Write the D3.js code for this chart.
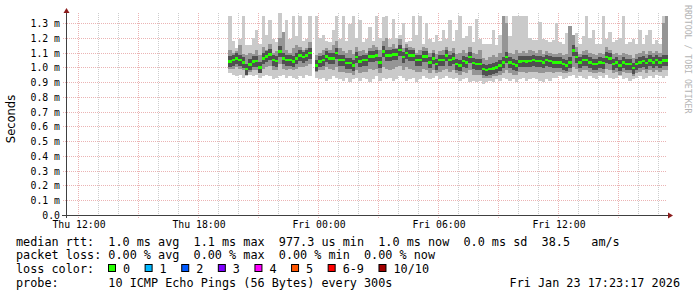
<!DOCTYPE html>
<html lang="en">
<head>
<meta charset="UTF-8">
<title>SmokePing - last 30 hours</title>
<style>
  body { margin: 0; background: #fff; }
  text { font-family: "DejaVu Sans Mono", monospace; fill: #000; }
  .tick-label { font-size: 9.8px; }
  .legend { font-size: 11.8px; white-space: pre; }
  .ylabel { font-family: "DejaVu Sans", sans-serif; font-size: 11.5px; }
  .watermark { font-size: 8.2px; fill: #b4b4b4; }
</style>
</head>
<body>
<script src="https://cdn.jsdelivr.net/npm/d3@7/dist/d3.min.js"></script>
<script>

// window shown and the 10 minute steps of data (values in ms)
var windowStart = new Date(2026, 0, 22, 11, 23, 17);
var windowEnd = new Date(2026, 0, 23, 17, 23, 17);
var firstStep = new Date(2026, 0, 22, 19, 30);
var stepMinutes = 10;

var median = [1.04,1.05,1.06,1.05,1.035,0.99,1.02,1.04,1.045,1.00,1.06,1.075,1.09,1.05,1.045,1.11,1.06,1.05,1.05,1.04,1.06,1.08,1.07,1.08,1.10,
  null,
  1.015,1.04,1.05,1.075,1.06,1.06,1.10,1.05,1.05,1.03,1.03,1.015,1.07,1.04,1.05,1.05,1.075,1.075,1.08,1.035,1.11,1.08,1.08,1.09,1.09,1.12,1.07,1.10,1.08,1.08,1.05,1.05,1.075,1.075,1.035,1.06,1.025,1.05,1.05,
  1.08,1.05,1.06,1.025,1.015,1.045,1.035,1.07,1.03,1.025,1.025,0.99,0.985,0.99,0.995,1.00,1.015,1.035,1.07,1.035,1.025,1.015,1.04,1.045,1.04,1.045,1.05,1.045,1.045,1.035,1.05,1.045,1.035,
  1.035,1.035,1.025,1.015,1.035,1.115,1.07,1.035,1.05,1.05,1.035,1.025,1.025,1.035,1.03,1.07,1.06,1.025,1.035,1.015,1.035,1.025,1.025,0.997,1.025,1.035,1.045,1.03,1.047,1.035,1.05,1.035,1.047,1.047];

var pingMax = [1.35,1.18,1.13,1.19,1.35,1.15,1.15,1.20,1.25,1.16,1.35,1.22,1.32,1.19,1.17,1.37,1.20,1.32,1.19,1.35,1.21,1.35,1.18,1.19,1.35,
  null,
  1.35,1.20,1.22,1.18,1.17,1.25,1.35,1.19,1.35,1.18,1.29,1.35,1.20,1.32,1.17,1.19,1.27,1.18,1.35,1.20,1.34,1.35,1.19,1.33,1.20,1.22,1.30,1.17,1.18,1.35,1.22,1.35,1.16,1.30,1.19,1.17,1.22,1.18,1.25,
  1.19,1.32,1.18,1.25,1.35,1.20,1.21,1.28,1.17,1.33,1.19,1.16,1.16,1.16,1.25,1.15,1.22,1.35,1.35,1.21,1.35,1.35,1.35,1.35,1.35,1.20,1.185,1.185,1.31,1.19,1.185,1.17,1.185,
  1.30,1.17,1.16,1.23,1.22,1.185,1.23,1.16,1.21,1.35,1.20,1.25,1.16,1.16,1.35,1.19,1.24,1.17,1.185,1.20,1.35,1.16,1.17,1.195,1.16,1.25,1.16,1.22,1.25,1.16,1.185,1.16,1.35,1.35];

var pingMin = [0.96,0.95,0.94,0.95,0.93,0.94,0.95,0.94,0.95,0.93,0.94,0.95,0.94,0.92,0.93,0.94,0.95,0.93,0.94,0.93,0.92,0.94,0.93,0.95,0.94,
  null,
  0.93,0.92,0.93,0.91,0.92,0.94,0.93,0.92,0.91,0.93,0.90,0.92,0.93,0.91,0.93,0.92,0.90,0.92,0.94,0.91,0.93,0.92,0.93,0.91,0.92,0.94,0.93,0.91,0.92,0.93,0.90,0.92,0.94,0.93,0.92,0.93,0.94,0.92,0.93,
  0.94,0.93,0.92,0.93,0.91,0.92,0.93,0.90,0.91,0.90,0.91,0.89,0.90,0.91,0.90,0.92,0.91,0.93,0.92,0.91,0.92,0.90,0.92,0.93,0.91,0.92,0.93,0.92,0.91,0.90,0.92,0.91,0.93,
  0.93,0.94,0.92,0.93,0.94,0.95,0.93,0.94,0.93,0.92,0.94,0.93,0.92,0.94,0.93,0.95,0.93,0.92,0.93,0.94,0.92,0.93,0.91,0.92,0.93,0.94,0.92,0.93,0.94,0.93,0.95,0.94,0.93,0.94];

var innerHigh = [1.12,1.10,1.11,1.15,1.09,1.08,1.10,1.09,1.12,1.08,1.14,1.12,1.16,1.10,1.11,1.20,1.24,1.12,1.10,1.13,1.15,1.14,1.12,1.13,1.17,
  null,
  1.08,1.10,1.12,1.13,1.12,1.15,1.18,1.13,1.11,1.10,1.12,1.09,1.14,1.11,1.12,1.10,1.13,1.15,1.14,1.12,1.18,1.20,1.14,1.16,1.13,1.19,1.13,1.16,1.14,1.13,1.10,1.12,1.14,1.13,1.10,1.12,1.09,1.11,1.12,
  1.14,1.11,1.13,1.09,1.10,1.12,1.10,1.14,1.10,1.09,1.12,1.06,1.05,1.07,1.08,1.07,1.10,1.35,1.30,1.10,1.09,1.12,1.10,1.11,1.10,1.12,1.11,1.10,1.12,1.09,1.11,1.10,1.09,
  1.09,1.10,1.08,1.09,1.28,1.22,1.14,1.09,1.11,1.12,1.10,1.09,1.08,1.10,1.09,1.14,1.12,1.09,1.10,1.08,1.10,1.09,1.08,1.06,1.09,1.10,1.11,1.09,1.11,1.10,1.11,1.10,1.30,1.35];

var innerLow = [0.99,0.99,1.00,0.99,0.98,0.95,0.97,0.98,0.98,0.96,0.99,1.00,1.01,0.98,0.98,1.02,0.99,0.98,0.99,0.98,0.99,1.00,1.00,1.01,1.02,
  null,
  0.97,0.98,0.98,1.00,0.99,0.98,1.00,0.97,0.97,0.96,0.96,0.95,0.98,0.96,0.97,0.97,0.99,0.98,0.99,0.96,1.00,0.99,0.98,0.99,1.00,1.01,0.98,1.00,0.99,0.98,0.97,0.97,0.99,0.98,0.96,0.98,0.96,0.97,0.98,
  0.99,0.97,0.98,0.96,0.95,0.97,0.96,0.98,0.95,0.95,0.95,0.93,0.93,0.93,0.94,0.94,0.95,0.96,0.98,0.96,0.95,0.95,0.97,0.97,0.96,0.97,0.97,0.97,0.96,0.96,0.97,0.97,0.96,
  0.97,0.97,0.96,0.96,0.97,1.00,0.99,0.97,0.98,0.98,0.97,0.96,0.96,0.97,0.96,0.99,0.98,0.96,0.97,0.95,0.97,0.96,0.96,0.94,0.96,0.97,0.98,0.96,0.98,0.97,0.98,0.97,0.98,0.98];

var yTicks = [0, 0.1, 0.2, 0.3, 0.4, 0.5, 0.6, 0.7, 0.8, 0.9, 1.0, 1.1, 1.2, 1.3];

var legendLines = [
  "median rtt:  1.0 ms avg  1.1 ms max  977.3 us min  1.0 ms now  0.0 ms sd  38.5   am/s",
  "packet loss: 0.00 % avg  0.00 % max  0.00 % min  0.00 % now",
  "loss color:",
  "probe:       10 ICMP Echo Pings (56 Bytes) every 300s"
];
var lossLabels = ["0", "1", "2", "3", "4", "5", "6-9", "10/10"];
var lossColors = ["#26ff00", "#00b8ff", "#0059ff", "#7e00ff", "#ff00ff", "#ff5500", "#ff0000", "#a10000"];
var stamp = "Fri Jan 23 17:23:17 2026";

var W = 697, H = 297;
var plotLeft = 66, plotRight = 666, plotTop = 13, plotBottom = 215;

var svg = d3.select("body").append("svg")
  .attr("width", W)
  .attr("height", H);

var x = d3.scaleTime().domain([windowStart, windowEnd]).range([plotLeft, plotRight]);
var y = d3.scaleLinear().domain([0, 1.3]).range([plotBottom, 23]);

svg.append("clipPath").attr("id", "plot")
  .append("rect").attr("x", plotLeft + 1).attr("y", plotTop)
  .attr("width", plotRight - plotLeft + 1).attr("height", plotBottom - plotTop);

// grid
var minorColor = "#cdcdcd", majorColor = "#ebb4b4";
var hours = x.ticks(d3.timeHour.every(1));
svg.append("g").selectAll("line")
  .data(hours.filter(function(d){ return d.getHours() % 3 !== 0 }))
  .join("line")
  .attr("x1", function(d){ return Math.floor(x(d)) + 0.5 })
  .attr("x2", function(d){ return Math.floor(x(d)) + 0.5 })
  .attr("y1", plotTop).attr("y2", plotBottom)
  .attr("stroke", minorColor).attr("stroke-dasharray", "1,1");

svg.append("g").selectAll("line")
  .data(hours.filter(function(d){ return d.getHours() % 3 === 0 }))
  .join("line")
  .attr("x1", function(d){ return Math.floor(x(d)) + 0.5 })
  .attr("x2", function(d){ return Math.floor(x(d)) + 0.5 })
  .attr("y1", plotTop).attr("y2", plotBottom + 3)
  .attr("stroke", majorColor).attr("stroke-dasharray", "1,1");

svg.append("g").selectAll("line")
  .data(yTicks.slice(1))
  .join("line")
  .attr("x1", plotLeft - 3).attr("x2", plotRight + 1)
  .attr("y1", function(d){ return Math.round(y(d)) + 0.5 })
  .attr("y2", function(d){ return Math.round(y(d)) + 0.5 })
  .attr("stroke", majorColor).attr("stroke-dasharray", "1,1");

// smoke and median
var steps = median.map(function(m, i) {
  var t0 = d3.timeMinute.offset(firstStep, i * stepMinutes);
  return { t0: t0, t1: d3.timeMinute.offset(t0, stepMinutes), med: m,
           lo: pingMin[i], hi: pingMax[i], lo2: innerLow[i], hi2: innerHigh[i] };
}).filter(function(d){ return d.med !== null });

var data = svg.append("g").attr("clip-path", "url(#plot)").attr("shape-rendering", "crispEdges");

function band(cls, fill, lowKey, highKey) {
  data.append("g").attr("class", cls).selectAll("rect")
    .data(steps)
    .join("rect")
    .attr("x", function(d){ return x(d.t0) })
    .attr("width", function(d){ return x(d.t1) - x(d.t0) })
    .attr("y", function(d){ return y(d[highKey]) })
    .attr("height", function(d){ return y(d[lowKey]) - y(d[highKey]) })
    .attr("fill", fill);
}
band("smoke-outer", "#cacaca", "lo", "hi");
band("smoke-inner", "#959595", "lo2", "hi2");

// darkest pings close to the median
data.append("g").selectAll("rect")
  .data(steps)
  .join("rect")
  .attr("x", function(d){ return x(d.t0) })
  .attr("width", function(d){ return x(d.t1) - x(d.t0) })
  .attr("y", function(d){ return y(d.med) - 5 })
  .attr("height", 11)
  .attr("fill", "#505050");

data.append("g").selectAll("rect")
  .data(steps)
  .join("rect")
  .attr("x", function(d){ return x(d.t0) })
  .attr("width", function(d){ return x(d.t1) - x(d.t0) })
  .attr("y", function(d){ return y(d.med) - 1 })
  .attr("height", 2.5)
  .attr("fill", lossColors[0]);

// axes
var axisColor = "#404040", arrowColor = "#8b1c1c";
svg.append("line")
  .attr("x1", plotLeft - 4).attr("x2", plotRight + 3)
  .attr("y1", plotBottom + 0.5).attr("y2", plotBottom + 0.5)
  .attr("stroke", axisColor);
svg.append("line")
  .attr("x1", plotLeft + 0.5).attr("x2", plotLeft + 0.5)
  .attr("y1", plotBottom + 3).attr("y2", plotTop - 1)
  .attr("stroke", axisColor);
svg.append("path")
  .attr("d", "M" + (plotRight + 2) + "," + (plotBottom - 2.5) + "L" + (plotRight + 7) + "," + (plotBottom + 0.5) + "L" + (plotRight + 2) + "," + (plotBottom + 3.5) + "Z")
  .attr("fill", arrowColor);
svg.append("path")
  .attr("d", "M" + (plotLeft - 2.5) + "," + plotTop + "L" + (plotLeft + 0.5) + "," + (plotTop - 5) + "L" + (plotLeft + 3.5) + "," + plotTop + "Z")
  .attr("fill", arrowColor);

// tick labels
svg.append("g").selectAll("text")
  .data(yTicks)
  .join("text")
  .attr("class", "tick-label")
  .attr("x", 60)
  .attr("y", function(d){ return Math.round(y(d)) + 4 })
  .attr("text-anchor", "end")
  .text(function(d){ return d === 0 ? "0.0" : d3.format(".1f")(d) + " m" });

var fmt = d3.timeFormat("%a %H:%M");
svg.append("g").selectAll("text")
  .data(x.ticks(d3.timeHour.every(6)))
  .join("text")
  .attr("class", "tick-label")
  .attr("x", function(d){ return Math.floor(x(d)) + 1 })
  .attr("y", 228)
  .attr("text-anchor", "middle")
  .text(fmt);

svg.append("text")
  .attr("class", "ylabel")
  .attr("transform", "translate(15,119) rotate(-90)")
  .attr("text-anchor", "middle")
  .text("Seconds");

svg.append("text")
  .attr("class", "watermark")
  .attr("transform", "translate(685,5) rotate(90)")
  .text("RRDTOOL / TOBI OETIKER");

// legend
svg.append("g").selectAll("text")
  .data(legendLines)
  .join("text")
  .attr("class", "legend")
  .attr("x", 16)
  .attr("y", function(d, i){ return 245.5 + i * 13.8 })
  .text(function(d){ return d });

var bx = 108.5;
lossLabels.forEach(function(label, i) {
  svg.append("rect")
    .attr("x", bx).attr("y", 264.5).attr("width", 7).attr("height", 7)
    .attr("fill", lossColors[i]).attr("stroke", "#000");
  var t = svg.append("text")
    .attr("class", "legend")
    .attr("x", bx + 14.5)
    .attr("y", 245.5 + 2 * 13.8)
    .text(label);
  bx = bx + 14.5 + t.node().getComputedTextLength() + 15;
});

svg.append("text")
  .attr("class", "legend")
  .attr("x", 680)
  .attr("y", 245.5 + 3 * 13.8)
  .attr("text-anchor", "end")
  .text(stamp);

</script>
</body>
</html>
